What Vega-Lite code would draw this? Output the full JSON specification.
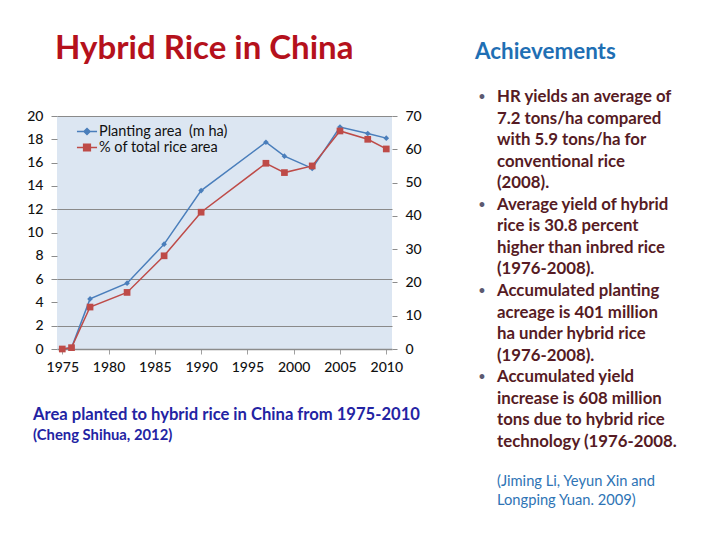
{
  "$schema": "https://vega.github.io/schema/vega-lite/v6.json",
  "background": "white",
  "padding": {"left": 26, "top": 33, "right": 0, "bottom": 0},
  "config": {"font": "Lato", "view": {"stroke": null}},
  "datasets": {
    "rice": [
      {"year": 1975, "area": 0.0, "pct": 0.0},
      {"year": 1976, "area": 0.1, "pct": 0.4},
      {"year": 1978, "area": 4.3, "pct": 12.6},
      {"year": 1982, "area": 5.65, "pct": 17.0},
      {"year": 1986, "area": 9.0, "pct": 28.0},
      {"year": 1990, "area": 13.6, "pct": 41.1},
      {"year": 1997, "area": 17.75, "pct": 55.8},
      {"year": 1999, "area": 16.55, "pct": 53.0},
      {"year": 2002, "area": 15.5, "pct": 55.0},
      {"year": 2005, "area": 19.05, "pct": 65.5},
      {"year": 2008, "area": 18.5, "pct": 63.0},
      {"year": 2010, "area": 18.1, "pct": 60.1}
    ],
    "caption": [
      {"line": 0, "text": "Area planted to hybrid rice in China from 1975-2010"},
      {"line": 1, "text": "(Cheng Shihua, 2012)"}
    ],
    "bullets": [
      {"line": 0, "first": true, "text": "HR yields an average of"},
      {"line": 1, "first": false, "text": "7.2 tons/ha compared"},
      {"line": 2, "first": false, "text": "with 5.9 tons/ha for"},
      {"line": 3, "first": false, "text": "conventional rice"},
      {"line": 4, "first": false, "text": "(2008)."},
      {"line": 5, "first": true, "text": "Average yield of hybrid"},
      {"line": 6, "first": false, "text": "rice is 30.8 percent"},
      {"line": 7, "first": false, "text": "higher than inbred rice"},
      {"line": 8, "first": false, "text": "(1976-2008)."},
      {"line": 9, "first": true, "text": "Accumulated planting"},
      {"line": 10, "first": false, "text": "acreage is 401 million"},
      {"line": 11, "first": false, "text": "ha under hybrid rice"},
      {"line": 12, "first": false, "text": "(1976-2008)."},
      {"line": 13, "first": true, "text": "Accumulated yield"},
      {"line": 14, "first": false, "text": "increase is 608 million"},
      {"line": 15, "first": false, "text": "tons due to hybrid rice"},
      {"line": 16, "first": false, "text": "technology (1976-2008."}
    ],
    "cite": [
      {"line": 0, "text": "(Jiming Li, Yeyun Xin and"},
      {"line": 1, "text": "Longping Yuan. 2009)"}
    ]
  },
  "bounds": "flush",
  "spacing": 84,
  "hconcat": [
    {
      "width": 335,
      "height": 233,
      "view": {"fill": "#DCE6F2", "stroke": null},
      "title": {
        "text": "Hybrid Rice in China",
        "anchor": "start",
        "frame": "group",
        "fontSize": 33,
        "fontWeight": "bold",
        "color": "#B5111C",
        "baseline": "alphabetic",
        "offset": 17,
        "dx": -2
      },
      "layer": [
        {
          "data": {"name": "rice"},
          "mark": {"type": "line", "strokeWidth": 1.5, "point": {"shape": "diamond", "size": 32, "filled": true}},
          "encoding": {
            "x": {
              "field": "year", "type": "quantitative",
              "scale": {"domain": [1974.43, 2010.62], "nice": false, "zero": false},
              "axis": {
                "title": null, "values": [1975, 1980, 1985, 1990, 1995, 2000, 2005, 2010], "format": "d",
                "grid": false, "domainColor": "#8C8C8C", "domainWidth": 1.5, "tickColor": "#A0A0A0",
                "tickSize": 5, "labelFontSize": 14, "labelFontWeight": 500, "labelColor": "#111111", "labelPadding": 6, "labelFlush": false
              }
            },
            "y": {
              "field": "area", "type": "quantitative",
              "scale": {"domain": [0, 20], "nice": false},
              "axis": {
                "orient": "left", "title": null, "values": [0, 2, 4, 6, 8, 10, 12, 14, 16, 18, 20],
                "domain": false, "tickColor": "#8C8C8C", "tickSize": 6, "labelPadding": 8,
                "labelFontSize": 14, "labelFontWeight": 500, "labelColor": "#111111",
                "grid": true, "gridColor": "#8A8A8A", "gridWidth": 1,
                "gridOpacity": {"condition": {"test": "indexof([2, 6, 12, 20], datum.value) >= 0", "value": 1}, "value": 0}
              }
            },
            "color": {
              "datum": "Planting area\u00a0 (m ha)", "type": "nominal",
              "scale": {"domain": ["Planting area\u00a0 (m ha)", "% of total rice area"], "range": ["#4A7EBB", "#BE4B48"]},
              "legend": {
                "title": null, "orient": "none", "legendX": 20.5, "legendY": 6, "padding": 0,
                "symbolSize": 280, "symbolStrokeWidth": 1.5, "rowPadding": 0,
                "labelFontSize": 14.5, "labelColor": "#111111", "labelOffset": 2.5,
                "encode": {
                  "symbols": {
                    "update": {
                      "shape": {"signal": "datum.index == 0 ? 'M-1.2,0H1.2M0,-0.36L0.36,0L0,0.36L-0.36,0Z' : 'M-1.2,0H1.2M-0.4,-0.4H0.4V0.4H-0.4Z'"},
                      "fill": {"scale": "color", "field": "value"},
                      "stroke": {"scale": "color", "field": "value"},
                      "opacity": {"value": 1}
                    }
                  }
                }
              }
            }
          }
        },
        {
          "data": {"name": "rice"},
          "mark": {"type": "line", "strokeWidth": 1.5, "point": {"shape": "square", "size": 45, "filled": true}},
          "encoding": {
            "x": {"field": "year", "type": "quantitative"},
            "y": {
              "field": "pct", "type": "quantitative",
              "scale": {"domain": [0, 70], "nice": false},
              "axis": {
                "orient": "right", "title": null, "values": [0, 10, 20, 30, 40, 50, 60, 70],
                "domain": false, "grid": false, "tickColor": "#8C8C8C", "tickSize": 5, "labelPadding": 8,
                "labelFontSize": 14, "labelFontWeight": 500, "labelColor": "#111111"
              }
            },
            "color": {"datum": "% of total rice area", "type": "nominal"}
          }
        },
        {
          "data": {"name": "caption"},
          "mark": {"type": "text", "align": "left", "baseline": "middle", "fontWeight": "bold", "color": "#2323A3", "dx": -24},
          "encoding": {
            "x": {"value": 0},
            "y": {
              "field": "line", "type": "quantitative",
              "scale": {"domain": [-14.238, -3.143], "reverse": true, "nice": false, "zero": false},
              "axis": null
            },
            "text": {"field": "text"},
            "size": {"condition": {"test": "datum.line == 0", "value": 16.6}, "value": 14.8}
          }
        }
      ],
      "resolve": {"scale": {"y": "independent"}}
    },
    {
      "width": 200,
      "height": 395,
      "title": {
        "text": "Achievements",
        "anchor": "start",
        "frame": "group",
        "fontSize": 22.4,
        "fontWeight": "bold",
        "color": "#1F6FB4",
        "baseline": "alphabetic",
        "offset": 8,
        "dx": -1
      },
      "layer": [
        {
          "data": {"name": "bullets"},
          "transform": [{"filter": "datum.first"}],
          "mark": {"type": "text", "align": "center", "baseline": "middle", "fontSize": 11, "fontWeight": "bold", "color": "#5C5A70", "dx": 6},
          "encoding": {
            "x": {"value": 0},
            "y": {"field": "line", "type": "quantitative", "scale": {"domain": [0.8812, 19.2], "reverse": true, "nice": false, "zero": false}, "axis": null},
            "text": {"value": "•"}
          }
        },
        {
          "data": {"name": "bullets"},
          "mark": {"type": "text", "align": "left", "baseline": "middle", "fontSize": 16.8, "fontWeight": "bold", "color": "#561B24", "dx": 21},
          "encoding": {
            "x": {"value": 0},
            "y": {"field": "line", "type": "quantitative", "scale": {"domain": [0.8812, 19.2], "reverse": true, "nice": false, "zero": false}, "axis": null},
            "text": {"field": "text"}
          }
        },
        {
          "data": {"name": "cite"},
          "mark": {"type": "text", "align": "left", "baseline": "middle", "fontSize": 14.7, "color": "#2E74B5", "dx": 21},
          "encoding": {
            "x": {"value": 0},
            "y": {"field": "line", "type": "quantitative", "scale": {"domain": [-19.289, 1.5], "reverse": true, "nice": false, "zero": false}, "axis": null},
            "text": {"field": "text"}
          }
        }
      ],
      "resolve": {"scale": {"y": "independent"}}
    }
  ]
}
